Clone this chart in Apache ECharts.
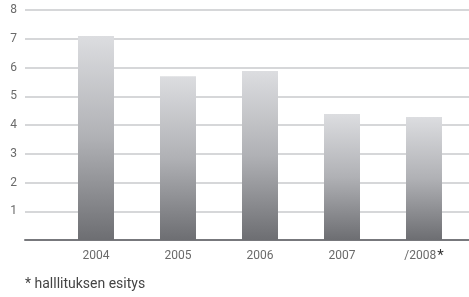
<!DOCTYPE html>
<html><head><meta charset="utf-8">
<script src="https://cdn.jsdelivr.net/npm/echarts@6/dist/echarts.min.js"></script>
<style>html,body{margin:0;padding:0;background:#fff}#c{width:469px;height:297px}</style>
</head><body><div id="c"></div>
<script>
const categories = ['2004', '2005', '2006', '2007', '/2008'];
const values = [7.1, 5.7, 5.88, 4.38, 4.28];
const yTicks = [0, 1, 2, 3, 4, 5, 6, 7, 8];
const footnote = '* halllituksen esitys';

const FONT = "'Roboto', 'Liberation Sans', sans-serif";
const chart = echarts.init(document.getElementById('c'), null, {renderer: 'canvas'});
chart.setOption({
  animation: false,
  grid: [
    {left: 25, right: 0, top: 10, bottom: 57},
    {left: 55, right: 4, top: 10, bottom: 57}
  ],
  xAxis: [
    {type: 'category', gridIndex: 0, data: categories, show: true,
     axisLine: {show: true, lineStyle: {color: '#77787c', width: 2}},
     axisTick: {show: false}, axisLabel: {show: false}},
    {type: 'category', gridIndex: 1, data: categories,
     axisLine: {show: false}, axisTick: {show: false},
     axisLabel: {color: '#6a6a6a', fontFamily: FONT, fontSize: 12, margin: 9, lineHeight: 14,
       formatter: v => v === '/2008' ? v + '{s|*}' : v,
       rich: {s: {fontSize: 15, color: '#333', fontFamily: FONT, lineHeight: 14, padding: [0, 0, 0, 1]}}}}
  ],
  yAxis: [
    {type: 'value', gridIndex: 0, min: yTicks[0], max: yTicks[yTicks.length - 1], interval: 1,
     axisLine: {show: false}, axisTick: {show: false},
     axisLabel: {color: '#6a6a6a', fontFamily: FONT, fontSize: 12, margin: 8,
       formatter: v => v === 0 ? '' : String(v)},
     splitLine: {show: true, lineStyle: {color: '#c9cacd', width: 1.5}}},
    {type: 'value', gridIndex: 1, min: yTicks[0], max: yTicks[yTicks.length - 1], interval: 1,
     show: false, splitLine: {show: false}}
  ],
  series: [{
    type: 'bar', xAxisIndex: 1, yAxisIndex: 1, data: values, barWidth: 36,
    itemStyle: {color: new echarts.graphic.LinearGradient(0, 0, 0, 1, [
      {offset: 0, color: '#dcdde0'}, {offset: 0.5, color: '#b0b1b5'}, {offset: 1, color: '#6d6e72'}
    ])}
  }],
  graphic: [{type: 'text', left: 25, top: 277,
    style: {text: footnote, fill: '#444', font: "14px " + FONT}}]
});
</script></body></html>
